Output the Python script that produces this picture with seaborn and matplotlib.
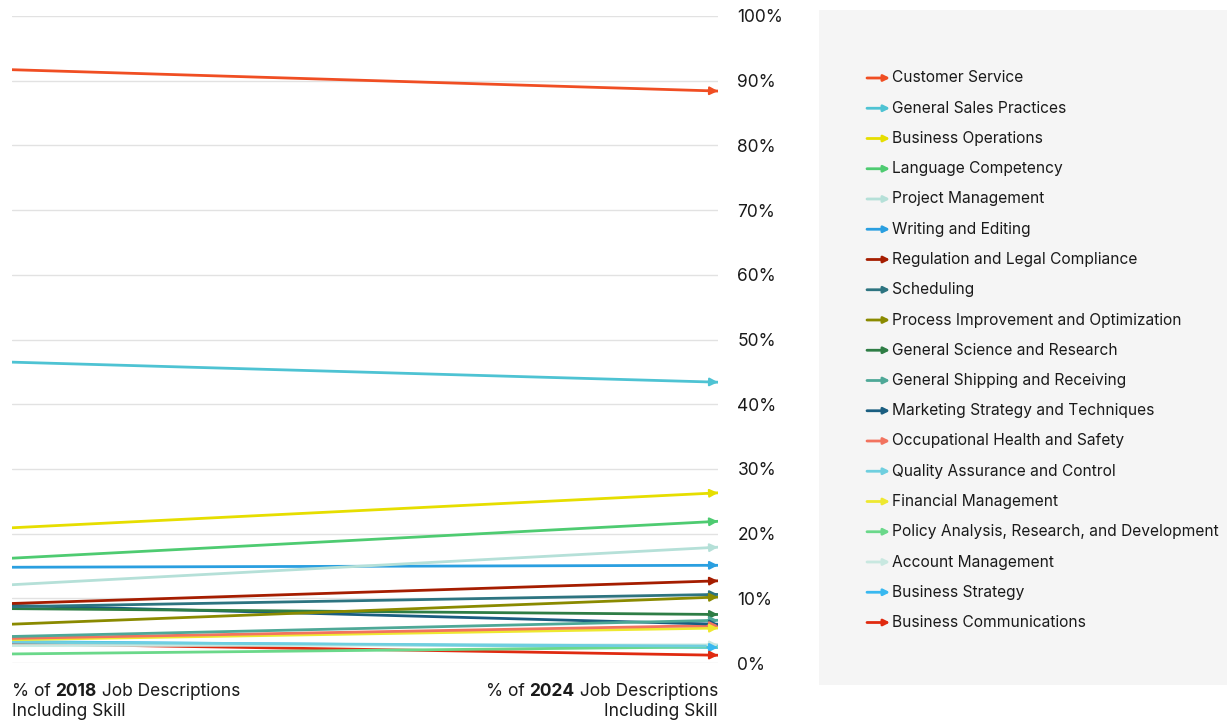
import numpy as np
import pandas as pd
import matplotlib.pyplot as plt
import seaborn as sns

# Skills, 2018 share and 2024 share (% of job descriptions)
skills = [
    'Customer Service', 'General Sales Practices', 'Business Operations',
    'Language Competency', 'Project Management', 'Writing and Editing',
    'Regulation and Legal Compliance', 'Scheduling',
    'Process Improvement and Optimization', 'General Science and Research',
    'General Shipping and Receiving', 'Marketing Strategy and Techniques',
    'Occupational Health and Safety', 'Quality Assurance and Control',
    'Financial Management', 'Policy Analysis, Research, and Development',
    'Account Management', 'Business Strategy', 'Business Communications',
]
pct_2018 = [91.7, 46.5, 20.9, 16.2, 12.1, 14.8, 9.2, 8.7, 6.0, 8.4,
            4.1, 8.9, 3.8, 3.2, 3.6, 1.4, 2.7, 3.3, 3.0]
pct_2024 = [88.4, 43.4, 26.3, 21.9, 17.9, 15.1, 12.7, 10.6, 10.2, 7.5,
            6.6, 6.0, 5.8, 2.6, 5.4, 2.5, 2.8, 2.4, 1.2]
colors = ['#f04e23', '#4ec3d3', '#e6de00', '#4ecb71', '#b5e0d8', '#2a9fe0',
          '#a51d00', '#2d7480', '#8a8a00', '#2e7d45', '#4ea897', '#1a5e80',
          '#f2735f', '#6fcfdf', '#eee830', '#6ad88a', '#c8e8e0', '#38b8f0',
          '#e02a10']
palette = dict(zip(skills, colors))

df = pd.DataFrame({
    'skill': skills * 2,
    'x': [0] * len(skills) + [1] * len(skills),
    'pct': pct_2018 + pct_2024,
})

sns.set_style('white')
plt.rcParams['font.family'] = ['Inter', 'DejaVu Sans']
txt = '#1a1a1a'

fig = plt.figure(figsize=(12.27, 7.25), dpi=100)
ax = fig.add_axes([12 / 1227, 1 - 663 / 725, 706 / 1227, 647 / 725])

sns.lineplot(data=df, x='x', y='pct', hue='skill', palette=palette,
             hue_order=skills[::-1], linewidth=2.0, legend=False, ax=ax)

# arrow heads at the 2024 end
for s, a, b in zip(skills, pct_2018, pct_2024):
    ax.annotate('', xy=(1, b), xytext=(0.985, a + 0.985 * (b - a)),
                arrowprops=dict(arrowstyle='-|>', color=palette[s], lw=1.5,
                                mutation_scale=12, shrinkA=0, shrinkB=0))

ax.set_xlim(0, 1)
ax.set_ylim(0, 100)
ax.set_yticks(np.arange(0, 101, 10))
ax.set_yticklabels([f'{v}%' for v in range(0, 101, 10)])
ax.yaxis.tick_right()
ax.tick_params(axis='y', length=0, pad=14, labelsize=12.5, labelcolor=txt)
ax.set_xticks([])
ax.set_xlabel('')
ax.set_ylabel('')
ax.grid(axis='y', color='#e2e2e2', linewidth=1)
ax.set_axisbelow(True)
for sp in ax.spines.values():
    sp.set_visible(False)

# bottom labels with bold years
fs = 12.5
y1 = 1 - 691 / 725
y2 = 1 - 712 / 725
t1 = fig.text(12 / 1227, y1, '% of ', fontsize=fs, color=txt, va='center')
t2 = ax.annotate('2018', xy=(1, 0), xycoords=t1, va='bottom', ha='left',
                 fontsize=fs, color=txt, weight='bold')
ax.annotate(' Job Descriptions', xy=(1, 0), xycoords=t2, va='bottom',
            ha='left', fontsize=fs, color=txt)
fig.text(12 / 1227, y2, 'Including Skill', fontsize=fs, color=txt, va='center')

r1 = fig.text(718 / 1227, y1, ' Job Descriptions', fontsize=fs,
              color=txt, va='center', ha='right')
r2 = ax.annotate('2024', xy=(0, 0), xycoords=r1, va='bottom', ha='right',
                 fontsize=fs, color=txt, weight='bold')
ax.annotate('% of ', xy=(0, 0), xycoords=r2, va='bottom', ha='right',
            fontsize=fs, color=txt)
fig.text(718 / 1227, y2, 'Including Skill', fontsize=fs,
         color=txt, va='center', ha='right')

# legend panel
lax = fig.add_axes([819 / 1227, 1 - 685 / 725, 408 / 1227, 675 / 725])
lax.set_facecolor('#f5f5f5')
lax.set_xlim(819, 1227)
lax.set_ylim(685, 10)
lax.set_xticks([])
lax.set_yticks([])
for sp in lax.spines.values():
    sp.set_visible(False)
for i, s in enumerate(skills):
    y = 78 + i * 30.25
    lax.annotate('', xy=(890, y), xytext=(867, y),
                 arrowprops=dict(arrowstyle='-|>', color=palette[s], lw=2,
                                 mutation_scale=9, shrinkA=0, shrinkB=0))
    lax.text(892, y, s, fontsize=11.2, color=txt, va='center', ha='left')

fig.savefig('out.png', dpi=100)
